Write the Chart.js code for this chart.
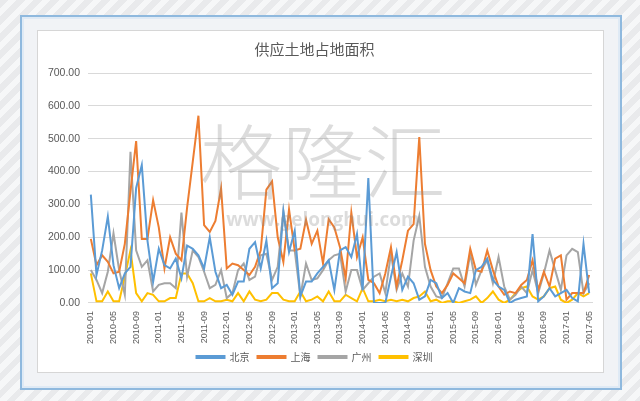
<!DOCTYPE html>
<html>
<head>
<meta charset="utf-8">
<script src="https://cdn.jsdelivr.net/npm/chart.js@4/dist/chart.umd.min.js"></script>
<style>
  html, body { margin: 0; padding: 0; }
  body {
    width: 640px; height: 401px; overflow: hidden; position: relative;
    background: repeating-linear-gradient(135deg, #e9eaec 0px, #e9eaec 6px, #f6f7f8 6px, #f6f7f8 12px);
  }
  #frame {
    position: absolute; left: 20px; top: 15px; width: 598px; height: 371px;
    border: 2px solid #8fb9de; background: #f1f3f6;
    box-shadow: inset 0 0 0 2px #dfeaf5;
  }
  #panel {
    position: absolute; left: 37px; top: 30px; width: 565px; height: 341px;
    border: 1px solid #d6d6d6; background: #fff;
  }
  #wrap { position: absolute; left: 37px; top: 30px; width: 567px; height: 343px; }
</style>
</head>
<body>
<div id="frame"></div>
<div id="panel"></div>
<div id="wrap"><canvas id="chart" width="567" height="343"></canvas></div>
<script>
'use strict';

/* =============================================
   DATA (monthly, 2010-01 .. 2017-05)
   ============================================= */
const months = [];
for (let y = 2010; y <= 2017; y++) {
  for (let m = 1; m <= 12; m++) {
    if (y === 2017 && m > 5) break;
    months.push(y + '-' + String(m).padStart(2, '0'));
  }
}

const beijing = [330,85,160,263,115,45,90,110,350,420,190,65,165,115,105,135,75,175,165,145,105,200,95,45,
  55,25,65,65,165,185,105,190,45,60,278,155,220,20,65,65,90,110,130,40,160,170,140,210,
  40,380,0,0,0,80,155,40,80,60,10,20,70,60,15,30,0,45,35,30,100,110,135,70,
  50,40,0,10,15,20,210,5,20,45,20,30,40,15,5,180,30,40,30];
const shanghai = [195,115,145,125,90,95,180,340,493,195,195,313,230,105,200,150,130,290,430,570,237,216,250,349,
  105,120,115,100,85,110,160,345,370,200,125,285,160,165,253,180,220,120,255,230,170,75,275,140,
  200,70,60,30,90,170,50,130,220,240,505,180,100,50,30,55,90,75,60,165,100,95,160,100,
  50,25,35,30,55,70,130,40,95,50,135,145,10,30,30,30,85];
const guangzhou = [100,70,30,95,212,100,25,460,160,110,130,35,55,60,60,45,275,80,160,140,95,45,55,100,
  15,30,100,120,70,80,145,150,70,110,280,160,160,20,120,70,75,100,130,145,150,35,100,100,
  40,60,80,90,30,150,40,90,50,190,265,110,50,20,15,60,105,105,50,150,55,100,130,60,
  140,50,10,25,50,30,100,30,90,160,100,40,145,165,155,30,60];
const shenzhen = [90,5,5,35,5,5,80,160,30,5,30,25,5,5,15,15,90,90,60,5,5,15,5,5,
  10,5,30,5,35,10,5,10,30,30,10,5,5,35,5,10,20,5,35,5,5,25,15,5,
  45,5,5,10,5,10,5,10,5,15,20,35,5,10,0,5,5,0,5,10,20,0,15,35,
  10,0,10,30,45,50,20,10,20,45,50,10,0,10,30,20,30];

const yTicks = [0, 100, 200, 300, 400, 500, 600, 700];

/* =============================================
   WATERMARK (site mark over the plot)
   ============================================= */
const watermark = {
  id: 'watermark',
  afterDatasetsDraw(chart) {
    const ctx = chart.ctx;
    ctx.save();
    ctx.fillStyle = 'rgba(140,140,140,0.30)';
    ctx.textAlign = 'center';
    ctx.textBaseline = 'middle';
    ctx.font = '300 82px "Noto Sans CJK SC"';
    ctx.fillText('格隆汇', 286, 132);
    ctx.font = 'bold 19px "Open Sans"';
    ctx.fillText('www.gelonghui.com', 286, 191);
    ctx.restore();
  }
};

/* =============================================
   CHART
   ============================================= */
const TXT = '#595959';
const GRID = '#d9d9d9';

function ds(label, data, color) {
  return {
    label, data,
    borderColor: color,
    backgroundColor: color,
    borderWidth: 2,
    pointRadius: 0,
    tension: 0
  };
}

new Chart(document.getElementById('chart'), {
  type: 'line',
  data: {
    labels: months,
    datasets: [
      ds('北京', beijing, '#5b9bd5'),
      ds('上海', shanghai, '#ed7d31'),
      ds('广州', guangzhou, '#a5a5a5'),
      ds('深圳', shenzhen, '#ffc000')
    ]
  },
  options: {
    responsive: false,
    animation: false,
    layout: { padding: { left: 0, right: 12, top: 8, bottom: 1 } },
    plugins: {
      title: {
        display: true,
        text: '供应土地占地面积',
        color: TXT,
        font: { family: '"Noto Sans CJK SC"', size: 15, weight: 'normal' },
        padding: { top: 2, bottom: 15 }
      },
      legend: {
        position: 'bottom',
        labels: {
          color: TXT,
          font: { family: '"Noto Sans CJK SC"', size: 10 },
          boxWidth: 28,
          boxHeight: 2,
          padding: 8
        }
      },
      tooltip: { enabled: false }
    },
    scales: {
      x: {
        offset: true,
        grid: { display: false },
        border: { display: true, color: GRID },
        ticks: {
          color: TXT,
          font: { family: '"Liberation Sans"', size: 9 },
          autoSkip: false,
          minRotation: 90,
          maxRotation: 90,
          padding: 0,
          callback: (v, i) => (i % 4 === 0 ? months[i] : '')
        }
      },
      y: {
        min: 0,
        max: 700,
        afterBuildTicks: s => { s.ticks = yTicks.map(v => ({ value: v })); },
        grid: { color: GRID, drawTicks: false },
        border: { display: false },
        ticks: {
          color: TXT,
          font: { family: '"Liberation Sans"', size: 10.5 },
          padding: 8,
          callback: v => v.toFixed(2)
        },
        afterFit: s => { s.width = 51; }
      }
    }
  },
  plugins: [watermark]
});
</script>
</body>
</html>
